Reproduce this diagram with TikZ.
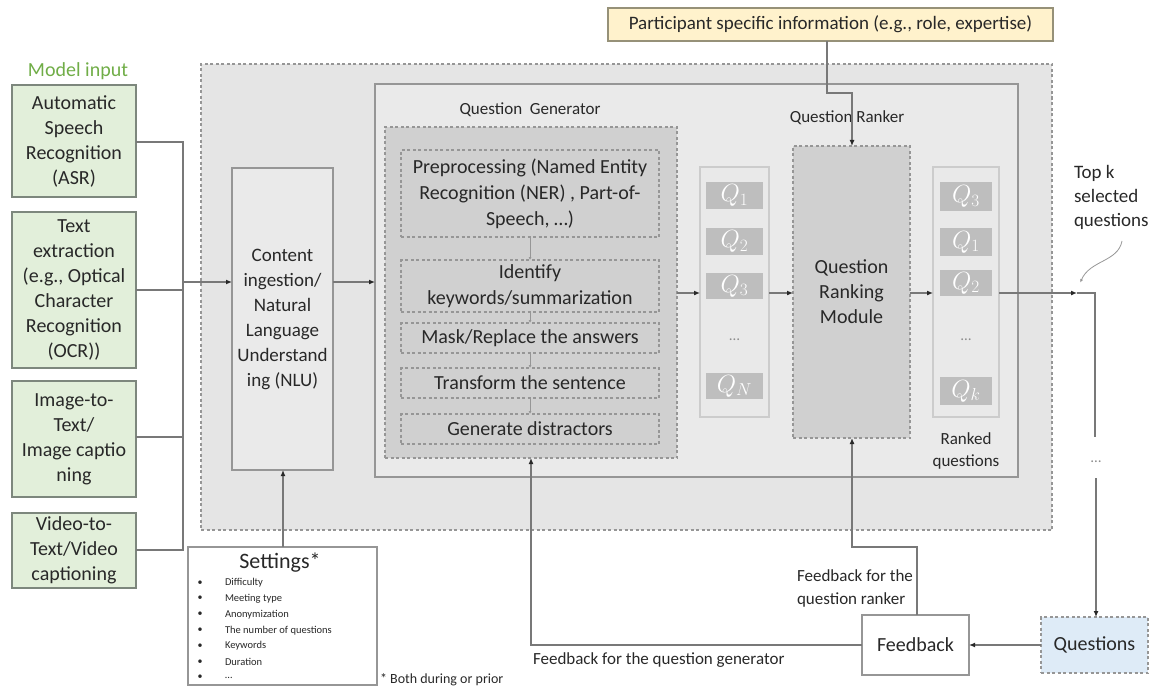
\documentclass[tikz,border=0pt]{standalone}
\usepackage{fontspec}
\setmainfont{Carlito}
\usetikzlibrary{arrows.meta}
\definecolor{inkgray}{RGB}{40,40,40}
\definecolor{linegray}{RGB}{120,120,120}
\definecolor{edgegray}{RGB}{150,150,150}
\definecolor{outerfill}{RGB}{229,229,229}
\definecolor{panelfill}{RGB}{234,234,234}
\definecolor{genfill}{RGB}{208,208,208}
\definecolor{listfill}{RGB}{233,233,233}
\definecolor{qfill}{RGB}{190,190,190}
\definecolor{inputfill}{RGB}{226,239,218}
\definecolor{inputedge}{RGB}{125,135,125}
\definecolor{inputlabel}{RGB}{112,173,71}
\definecolor{partfill}{RGB}{255,242,204}
\definecolor{partedge}{RGB}{150,145,120}
\definecolor{questfill}{RGB}{222,235,247}
\newcommand\fsz[2]{\fontsize{#1}{#2}\selectfont}
\begin{document}
\begin{tikzpicture}[x=1pt,y=-1pt,
  every node/.style={inner sep=0pt, outer sep=0pt, text=inkgray},
  solidbox/.style={draw=edgegray, line width=1.4pt, rectangle},
  dashbox/.style={draw=edgegray, line width=1.3pt, dash pattern=on 3pt off 2.5pt, rectangle},
  inputbox/.style={draw=inputedge, line width=1.3pt, fill=inputfill, align=center, font=\fsz{20}{25}},
  subbox/.style={dashbox, fill=genfill, minimum width=258pt, align=center, font=\fsz{20}{26}},
  listbox/.style={draw=black!20, line width=1.2pt, fill=listfill, minimum height=250pt},
  qitem/.style={fill=qfill, text=white, font=\fsz{25}{26}},
  conn/.style={draw=linegray, line width=1.3pt},
  arr/.style={conn, arrows={-{Latex[length=6pt,width=5pt,color=inkgray]}}},
  tinyarr/.style={draw=edgegray, line width=1pt, -{Latex[length=3pt,width=3pt]}},
  lbl/.style={font=\fsz{17}{23}}
]
\useasboundingbox (0,0) rectangle (1156,690);

% outer system area
\node[dashbox, fill=outerfill, minimum width=851pt, minimum height=466pt] (system) at (626.5,297) {};
% inner panel holding generator and ranker
\node[solidbox, fill=panelfill, minimum width=643pt, minimum height=393pt] (panel) at (696.5,280.5) {};

% model inputs
\node[font=\fsz{20}{25}, text=inputlabel] (inlabel) at (78,71) {Model input};
\node[inputbox, minimum width=124pt, minimum height=112pt] (asr) at (74,141) {Automatic\\Speech\\Recognition\\(ASR)};
\node[inputbox, minimum width=124pt, minimum height=156pt] (ocr) at (74,290) {Text\\extraction\\(e.g., Optical\\Character\\Recognition\\(OCR))};
\node[inputbox, minimum width=124pt, minimum height=116pt] (img) at (74,439) {Image-to-\\Text/\\Image captio\\ning};
\node[inputbox, minimum width=124pt, minimum height=75pt] (vid) at (74,550.5) {Video-to-\\Text/Video\\captioning};

% content ingestion
\node[solidbox, fill=panelfill, minimum width=101pt, minimum height=302pt, align=center, font=\fsz{19}{25}] (nlu) at (282.5,319) {Content\\ingestion/\\Natural\\Language\\Understand\\ing (NLU)};

% input bus
\coordinate (busT) at (183,142);
\coordinate (busB) at (183,550);
\coordinate (busM) at (183,282);
\draw[conn] (asr.east |- busT) -- (busT) -- (busB) -- (vid.east |- busB);
\draw[conn] (ocr.east |- 0,290) -- (183,290);
\draw[conn] (img.east |- 0,437) -- (183,437);
\draw[arr] (busM) -- (nlu.west |- busM);
\draw[arr] (nlu.east |- 0,282) -- (panel.west |- 0,282);

% question generator
\node[lbl] (qglabel) at (530,110) {Question\ \ Generator};
\node[dashbox, fill=genfill, minimum width=292pt, minimum height=331pt] (qg) at (531,292.5) {};
\node[subbox, minimum height=87pt] (pre) at (530,193.5) {Preprocessing (Named Entity\\Recognition (NER) , Part-of-\\Speech, \dots)};
\node[subbox, minimum height=52pt] (idf) at (530,286) {Identify\\keywords/summarization};
\node[subbox, minimum height=30pt] (mask) at (530,338) {Mask/Replace the answers};
\node[subbox, minimum height=30pt] (trans) at (530,383) {Transform the sentence};
\node[subbox, minimum height=30pt] (gen) at (530,429) {Generate distractors};
\draw[tinyarr] (pre.south) -- (idf.north);
\draw[tinyarr] (idf.south) -- (mask.north);
\draw[tinyarr] (mask.south) -- (trans.north);
\draw[tinyarr] (trans.south) -- (gen.north);

% candidate questions
\node[listbox, minimum width=69pt] (cand) at (734.5,292) {};
\node[qitem, minimum width=57pt, minimum height=27pt] (c1) at (734.5,195.5) {$Q_{1}$};
\node[qitem, minimum width=57pt, minimum height=27pt] (c2) at (734.5,241.5) {$Q_{2}$};
\node[qitem, minimum width=57pt, minimum height=26pt] (c3) at (734.5,286) {$Q_{3}$};
\node[font=\fsz{15}{15}, text=black!45] (cd) at (734.5,340) {\dots};
\node[qitem, minimum width=57pt, minimum height=26pt] (cn) at (734.5,386) {$Q_{N}$};
\draw[arr] (qg.east |- 0,293) -- (cand.west |- 0,293);

% question ranker
\node[lbl] (qrlabel) at (847,118) {Question Ranker};
\node[dashbox, fill=genfill, minimum width=117pt, minimum height=292pt, align=center, font=\fsz{20}{25}] (rank) at (851.5,292) {Question\\Ranking\\Module};
\draw[arr] (cand.east |- 0,293) -- (rank.west |- 0,293);

% ranked questions
\node[listbox, minimum width=66pt] (ranked) at (966,292) {};
\node[qitem, minimum width=52pt, minimum height=29pt] (r1) at (966,196.5) {$Q_{3}$};
\node[qitem, minimum width=52pt, minimum height=28pt] (r2) at (966,242) {$Q_{1}$};
\node[qitem, minimum width=52pt, minimum height=26pt] (r3) at (966,283) {$Q_{2}$};
\node[font=\fsz{15}{15}, text=black!45] (rd) at (966,340) {\dots};
\node[qitem, minimum width=52pt, minimum height=28pt] (rk) at (966,391) {$Q_{k}$};
\draw[arr] (rank.east |- 0,293) -- (ranked.west |- 0,293);
\node[lbl, align=center, font=\fsz{17}{22}] (rlabel) at (966,451) {Ranked\\questions};

% participant information
\node[draw=partedge, line width=1.3pt, fill=partfill, minimum width=445pt, minimum height=33pt, font=\fsz{19}{23}] (part) at (830.5,24.5) {Participant specific information (e.g., role, expertise)};
\draw[arr] (827,41) -- (827,93) -- (852,93) -- (852,146);

% top-k output
\coordinate (topk) at (1077,293);
\coordinate (outc) at (1095,293);
\coordinate (outd) at (1095,437);
\draw[arr] (ranked.east |- topk) -- (topk);
\draw[conn] (topk) -- (outc) -- (outd);
\node[font=\fsz{19}{24}, align=left, anchor=west] (tklabel) at (1074,197) {Top k\\selected\\questions};
\draw[draw=edgegray, line width=0.8pt, -{Latex[length=4pt,width=3pt]}] (1122,241) .. controls (1118,262) and (1090,260) .. (1080,283);
\node[font=\fsz{15}{15}, text=black!45] (odots) at (1096,462) {\dots};

% questions and feedback
\node[dashbox, fill=questfill, minimum width=107pt, minimum height=56pt, font=\fsz{20}{24}] (quest) at (1094.5,645) {Questions};
\node[draw=edgegray, line width=1.3pt, fill=white, minimum width=107pt, minimum height=60pt, font=\fsz{20}{24}] (fb) at (915.5,645) {Feedback};
\draw[arr] (1096,478) -- (quest.north -| 1096,0);
\draw[arr] (quest.west) -- (fb.east);
\draw[arr] (fb.north -| 917,0) -- (917,547) -- (852,547) -- (rank.south -| 852,0);
\draw[arr] (fb.west) -- (531,645) -- (qg.south -| 531,0);
\node[lbl, align=left, anchor=west] (fbr) at (797,588.5) {Feedback for the\\question ranker};
\node[lbl, anchor=west] (fbg) at (533,660) {Feedback for the question generator};

% settings
\node[draw=edgegray, line width=1.3pt, fill=white, minimum width=189pt, minimum height=138pt] (set) at (282.5,616) {};
\node[font=\fsz{22}{24}] (settitle) at (280,563) {Settings*};
\foreach \t [count=\i] in {Difficulty, Meeting type, Anonymization, The number of questions, Keywords, Duration, \dots}{
  \node[font=\fsz{10}{12}] (sb\i) at (200,567+15.8*\i) {\textbullet};
  \node[font=\fsz{10.5}{12}, anchor=west] (st\i) at (225,567+15.8*\i) {\t};
}
\draw[arr] (set.north -| 283,0) -- (nlu.south -| 283,0);
\node[font=\fsz{14}{16}, anchor=west] (both) at (380,680) {* Both during or prior};
\end{tikzpicture}
\end{document}
